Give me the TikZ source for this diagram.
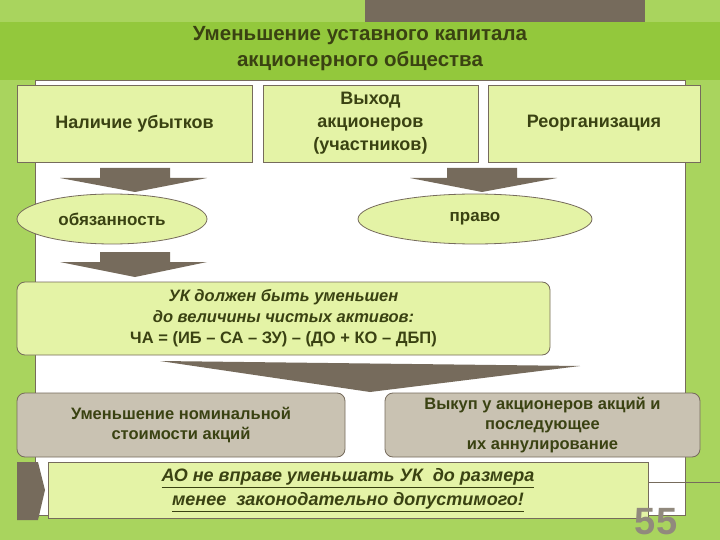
\documentclass[tikz,border=0pt]{standalone}
\usepackage{fontspec}
\setmainfont{Liberation Sans}
\usepackage{tikz}
\usetikzlibrary{shapes.geometric}
\definecolor{bg}{HTML}{A9D45E}
\definecolor{band}{HTML}{93C83C}
\definecolor{pale}{HTML}{E4F3A6}
\definecolor{ink}{HTML}{3A4212}
\definecolor{brn}{HTML}{766B5C}
\definecolor{gry}{HTML}{C9C2B2}
\tikzset{
  cause/.style={draw=brn, fill=pale, minimum height=77pt, align=center,
    text=ink, font=\bfseries\fontsize{18}{23}\selectfont},
  oval/.style={ellipse, draw=brn, thick, fill=pale, minimum height=50pt,
    text=ink, font=\bfseries\fontsize{17}{20}\selectfont},
  way/.style={draw=brn, thick, rounded corners=8pt, fill=gry, align=center,
    text=ink, font=\bfseries\fontsize{16.5}{20}\selectfont},
  flow/.style={fill=brn}
}
\begin{document}
\begin{tikzpicture}[x=1pt,y=-1pt]
% page and frame
\useasboundingbox (0,0) rectangle (720,540);
\fill[bg] (0,0) rectangle (720,540);
\fill[brn] (365,0) rectangle (645,22);
\fill[white, draw=brn, thick] (35,80) rectangle (685,515);
\fill[band] (0,22) rectangle (720,80);
\node[text=ink, align=center, font=\bfseries\fontsize{20.5}{26}\selectfont] (title)
  at (360,49) {Уменьшение уставного капитала\\акционерного общества};

% three causes
\node[cause, minimum width=235pt] (loss) at (134.5,123.5) {Наличие убытков};
\node[cause, minimum width=215pt] (exit) at (370.5,123.5) {Выход\\акционеров\\(участников)};
\node[cause, minimum width=212pt] (reorg) at (594,123.5) {Реорганизация};

% duty and right
\node[oval, minimum width=190pt] (duty) at (112,219) {обязанность};
\node[oval, minimum width=234pt] (right) at (475,219) {право};
\fill[flow] (100,168) rectangle (170,178) (60,178) -- (207,178) -- (135,192) -- cycle;
\fill[flow] (447,168) rectangle (517,178) (410,178) -- (557,178) -- (482,192) -- cycle;
\fill[flow] (100,252) rectangle (170,262) (60,262) -- (207,262) -- (135,277) -- cycle;

% rule
\node[draw=brn, thick, rounded corners=8pt, fill=pale, minimum width=533pt,
  minimum height=73pt, align=center, text=ink, font=\bfseries\fontsize{16.5}{21}\selectfont]
  (rule) at (283.5,318.5) {\itshape УК должен быть уменьшен\\\itshape до величины чистых активов:\\ЧА = (ИБ -- СА -- ЗУ) -- (ДО + КО -- ДБП)};
\fill[flow] (160,361) -- (580,366) -- (370,392) -- cycle;

% ways
\node[way, minimum width=328pt, minimum height=64pt] (nominal) at (181,425)
  {Уменьшение номинальной\\стоимости акций};
\node[way, minimum width=315pt, minimum height=64pt] (buyback) at (542.5,425)
  {Выкуп у акционеров акций и\\последующее\\их аннулирование};

% limit
\fill[brn] (17,462) -- (38,462) -- (45,490) -- (38,520) -- (17,520) -- cycle;
\node[draw=brn, fill=pale, minimum width=600pt, minimum height=56pt, align=center,
  text=ink, font=\bfseries\itshape\fontsize{18}{24}\selectfont] (limit) at (348,490)
  {\underline{АО не вправе уменьшать УК\ \ до размера}\\\underline{менее\ \ законодательно допустимого!}};
\coordinate (edge) at (720,482);
\draw[brn, thick] (limit.east |- edge) -- (edge);
\node[text=brn!80, font=\bfseries\fontsize{38}{38}\selectfont] (page) at (656,522) {55};
\end{tikzpicture}
\end{document}
